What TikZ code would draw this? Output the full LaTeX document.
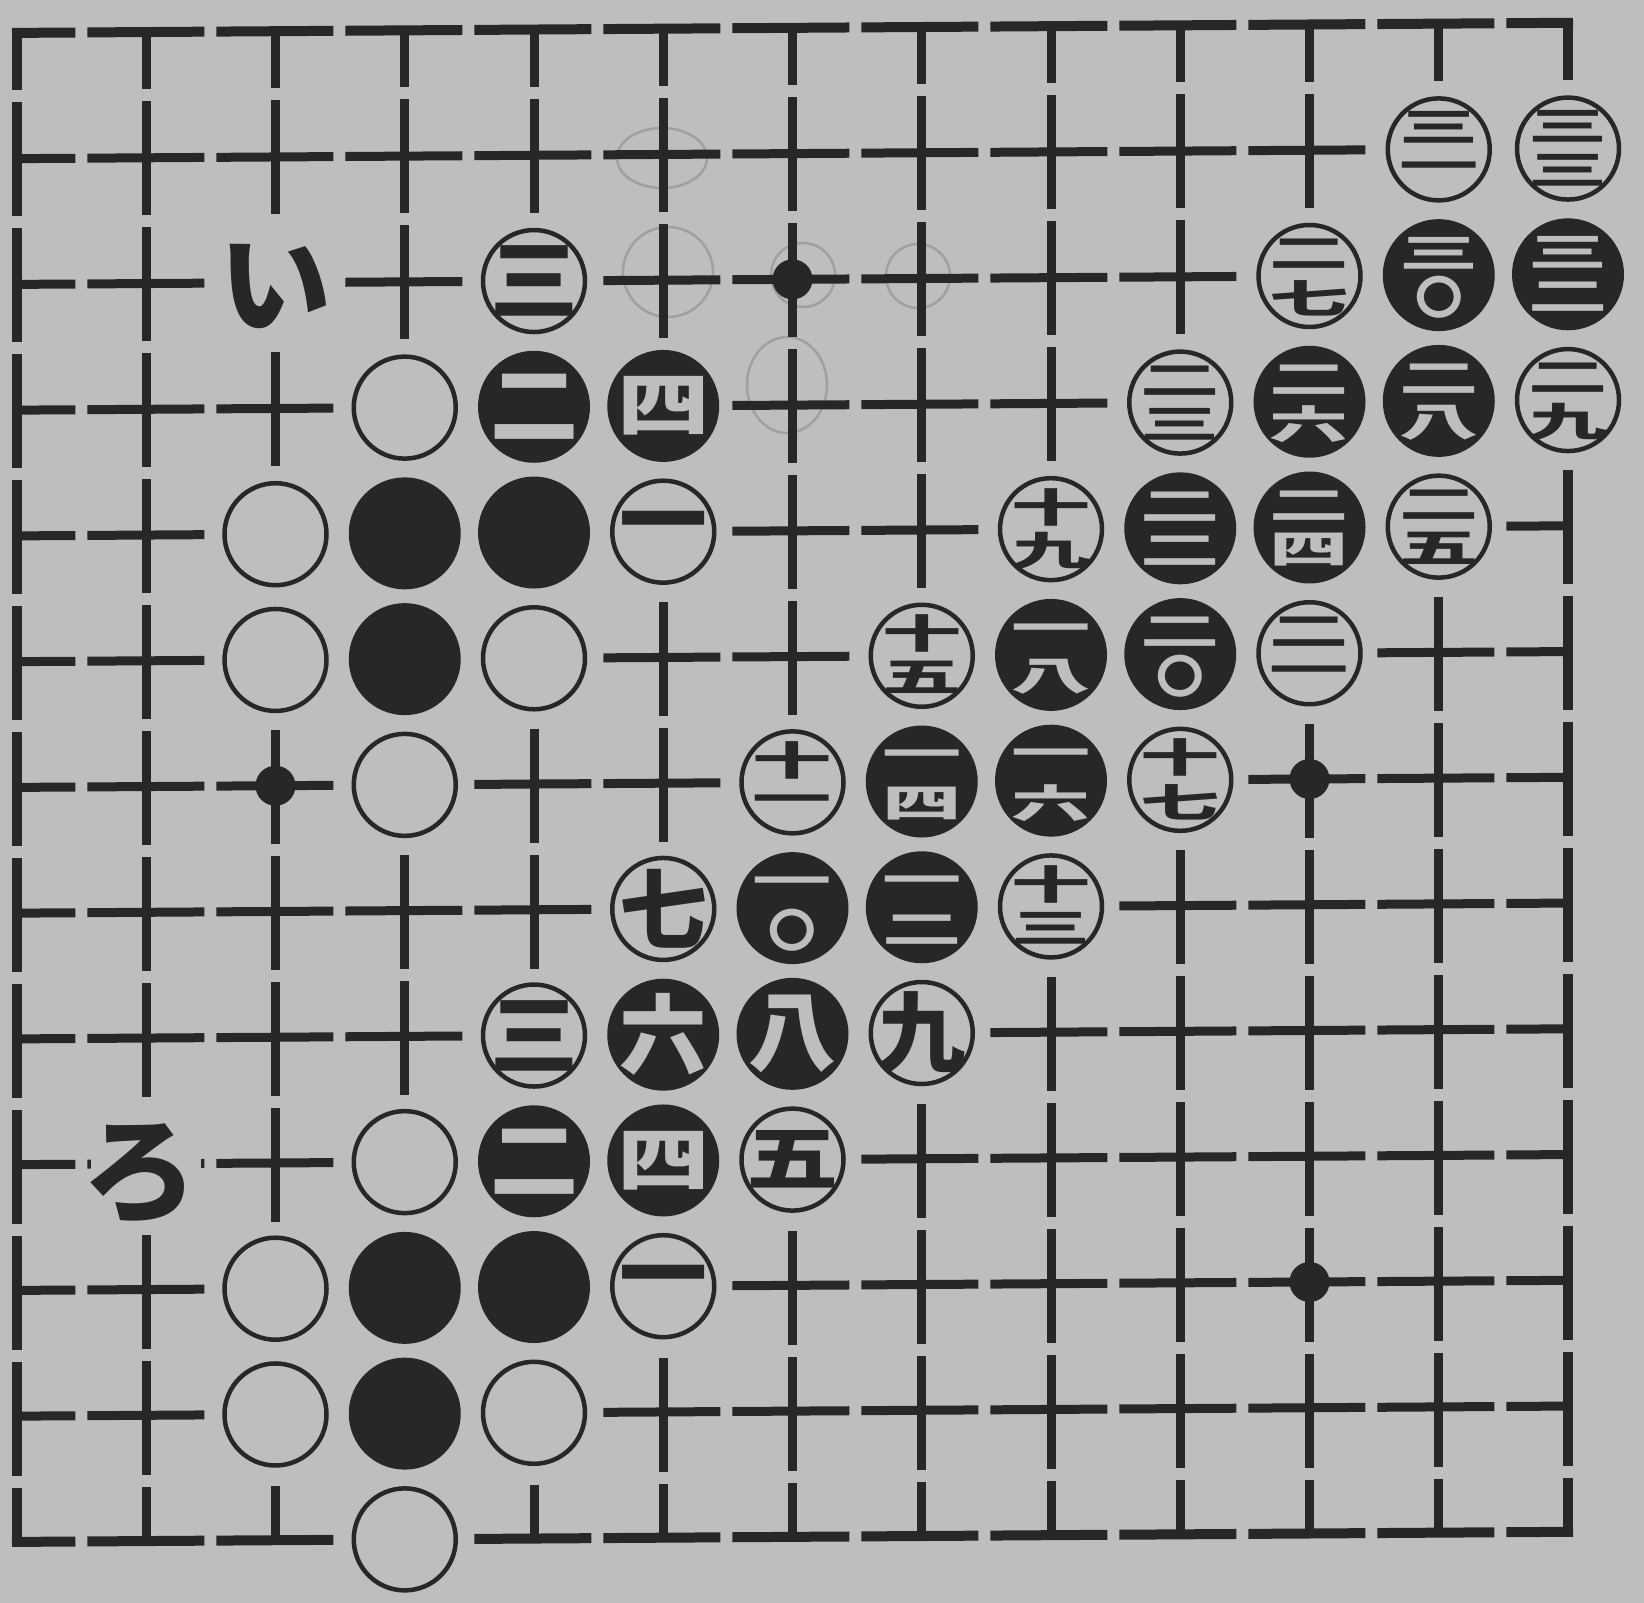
\documentclass[tikz,border=0pt]{standalone}
\usepackage{fontspec}
\usepackage{graphicx}
\newfontfamily\jp{Noto Sans CJK JP}
\definecolor{paper}{HTML}{BEBEBE}
\definecolor{ink}{HTML}{272727}
\definecolor{ghost}{HTML}{A0A0A0}
\newcommand\Zr{\scalebox{0.6}[1.15]{〇}}
\newcommand\Flat[1]{\scalebox{1.05}[0.8]{#1}}
\tikzset{
  gridh/.style={line width=9pt, draw=ink, dash pattern=on 117pt off 12pt, dash phase=58.6pt},
  gridv/.style={line width=9pt, draw=ink, dash pattern=on 114pt off 12pt, dash phase=56.9pt},
  borderh/.style={gridh, line width=10pt, shorten <=-5pt, shorten >=-5pt, dash phase=53.6pt},
  borderv/.style={gridv, line width=10pt, shorten <=-5pt, shorten >=-5pt, dash phase=51.9pt},
  halo/.style={circle, fill=paper, minimum size=128pt, inner sep=0pt},
  stw/.style={circle, draw=ink, fill=paper, line width=4.5pt, minimum size=102pt, inner sep=0pt},
  stb/.style={circle, fill=ink, minimum size=112pt, inner sep=0pt},
  txw/.style={text=ink, inner sep=0pt, font=\jp\bfseries\fontsize{88}{88}\selectfont},
  txb/.style={txw, text=paper},
  starpt/.style={circle, fill=ink, minimum size=40pt, inner sep=0pt},
  lblhalo/.style={rectangle, fill=paper, inner sep=0pt},
  lbl/.style={text=ink, inner sep=0pt},
  ghostline/.style={draw=ghost, line width=2.5pt},
}
\begin{document}
\begin{tikzpicture}[x=1pt,y=-1pt]
\fill[paper] (0,0) rectangle (1644,1603);
\useasboundingbox (0,0) rectangle (1644,1603);
% faint pencil marks
\draw[ghostline] (668,272) circle[radius=45];
\draw[ghostline] (662,158) ellipse[x radius=45, y radius=30];
\draw[ghostline] (803,275) circle[radius=32];
\draw[ghostline] (787,385) ellipse[x radius=40, y radius=48];
\draw[ghostline] (918,276) circle[radius=32];
\begin{scope}[cm={1,0.0065,0,1,(0,0)}, shift={(17pt,-33pt)}, x=129.25pt, y=-125.75pt]
% grid
\foreach \rr in {1,...,11} \draw[gridh] (0,\rr) -- (12,\rr);
\foreach \cc in {1,...,11} \draw[gridv] (\cc,0) -- (\cc,12);
\draw[borderh] (0,0) -- (12,0);
\draw[borderh] (0,12) -- (12,12);
\draw[borderv] (0,0) -- (0,12);
\draw[borderv] (12,0) -- (12,12);
% star points
\node[starpt] (p1) at (6,2) {};
\node[starpt] (p2) at (2,6) {};
\node[starpt] (p3) at (10,6) {};
\node[starpt] (p4) at (10,10) {};
% halos
\foreach \cc/\rr in {3/3,2/4,2/5,4/5,3/6,3/9,2/10,2/11,4/11,3/12,
  3/4,4/4,3/5,3/10,4/10,3/11,
  4/2,5/4,5/10,4/8,7/8,5/7,6/9,4/3,5/3,4/9,5/9,5/8,6/8,
  6/6,8/7,7/5,9/6,8/4,10/5,9/3,11/4,10/2,12/3,11/1,12/1,
  6/7,7/7,7/6,8/6,8/5,9/5,9/4,10/4,10/3,11/3,11/2,12/2}
  \node[halo] (h\cc-\rr) at (\cc,\rr) {};
% labels
\node[lblhalo, minimum width=124pt, minimum height=134pt] (hi) at (2,2) {};
\node[lblhalo, minimum width=110pt, minimum height=132pt] (hro) at (1,9.04) {};
\node[lbl, font=\jp\bfseries\fontsize{112}{112}\selectfont] (li) at (2,2.03) {い};
\node[lbl, font=\jp\bfseries\fontsize{115}{115}\selectfont] (lro) at (0.95,9.08) {ろ};
% plain stones
\foreach \cc/\rr in {3/3,2/4,2/5,4/5,3/6,3/9,2/10,2/11,4/11,3/12}
  \node[stw] (s\cc-\rr) at (\cc,\rr) {};
\foreach \cc/\rr in {3/4,4/4,3/5,3/10,4/10,3/11}
  \node[stb] (s\cc-\rr) at (\cc,\rr) {};
% single numeral stones
\foreach \cc/\rr/\sty/\tst/\nn in {4/2/stw/txw/三, 5/4/stw/txw/一, 5/10/stw/txw/一,
  4/8/stw/txw/三, 7/8/stw/txw/九, 5/7/stw/txw/七, 6/9/stw/txw/\Flat{五},
  4/3/stb/txb/二, 5/3/stb/txb/\Flat{四}, 4/9/stb/txb/二, 5/9/stb/txb/\Flat{四},
  5/8/stb/txb/六, 6/8/stb/txb/八}
  {\node[\sty] (s\cc-\rr) at (\cc,\rr) {};
   \node[\tst] (t\cc-\rr) at (s\cc-\rr.center) {\nn};}
% stacked numeral stones
\foreach \cc/\rr/\sty/\tst/\up/\dn in {6/6/stw/txw/十/一, 8/7/stw/txw/十/三,
  7/5/stw/txw/十/五, 9/6/stw/txw/十/七, 8/4/stw/txw/十/九,
  10/5/stw/txw/二/一, 9/3/stw/txw/二/三, 11/4/stw/txw/二/五,
  10/2/stw/txw/二/七, 12/3/stw/txw/二/九, 11/1/stw/txw/三/一, 12/1/stw/txw/三/三,
  6/7/stb/txb/一/\Zr, 7/7/stb/txb/一/二, 7/6/stb/txb/一/四, 8/6/stb/txb/一/六,
  8/5/stb/txb/一/八, 9/5/stb/txb/二/\Zr, 9/4/stb/txb/二/二, 10/4/stb/txb/二/四,
  10/3/stb/txb/二/六, 11/3/stb/txb/二/八, 11/2/stb/txb/三/\Zr, 12/2/stb/txb/三/二}
  {\node[\sty] (s\cc-\rr) at (\cc,\rr) {};
   \node[\tst] (u\cc-\rr) at ([yshift=22pt]s\cc-\rr.center) {\scalebox{0.9}[0.45]{\up}};
   \node[\tst] (d\cc-\rr) at ([yshift=-22pt]s\cc-\rr.center) {\scalebox{0.9}[0.45]{\dn}};}
\end{scope}
\end{tikzpicture}
\end{document}
